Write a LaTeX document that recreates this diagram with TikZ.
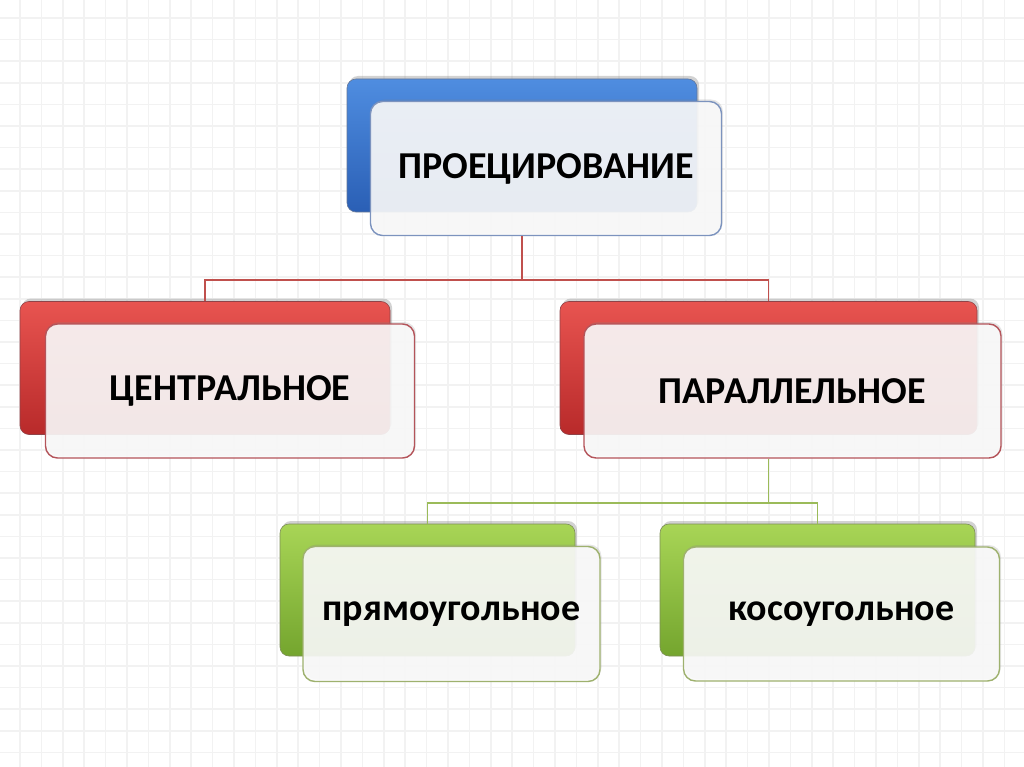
\documentclass[tikz,border=0pt]{standalone}
\usepackage{fontspec}
\setmainfont{Carlito}
\usetikzlibrary{shadows}
\definecolor{blueTop}{HTML}{4F8DE0}
\definecolor{blueBot}{HTML}{2A5FB5}
\definecolor{redTop}{HTML}{E85450}
\definecolor{redBot}{HTML}{B82A2A}
\definecolor{greenTop}{HTML}{A8D556}
\definecolor{greenBot}{HTML}{74A52E}
\definecolor{blueLine}{HTML}{7C93BE}
\definecolor{redLine}{HTML}{B4545A}
\definecolor{greenLine}{HTML}{9EB16E}
\definecolor{redLink}{HTML}{C0504D}
\definecolor{greenLink}{HTML}{9BBB59}
\tikzset{
  backbox/.style 2 args={draw=#2!80!black,line width=.6,rounded corners=9,top color=#1Top,bottom color=#1Bot,
    drop shadow={shadow xshift=2,shadow yshift=-3,opacity=.35}},
  frontbox/.style={draw=#1,line width=1.4,rounded corners=12,fill=black!2,fill opacity=.9,text opacity=1,
    drop shadow={shadow xshift=1.5,shadow yshift=-2,opacity=.2},
    font=\fontsize{38}{46}\selectfont\bfseries},
  link/.style={draw=#1,line width=1.6}
}
\begin{document}
\begin{tikzpicture}[x=1pt,y=-1pt]
  \useasboundingbox (0,0) rectangle (1024,767);
  \fill[white] (0,0) rectangle (1024,767);
  \def\StEp{21.4}%网格间距
  \foreach \x in {20,41.4,...,1024}
    \draw[black!5,line width=1.6] (\x,0)--(\x,767);
  \foreach \y in {18,39.6,...,767}
    \draw[black!5,line width=1.6] (0,\y)--(1024,\y);
  % 上层
  \node[backbox={blue}{blueLine},minimum width=350,minimum height=133] (projB) at (522,145.5) {};
  \node[frontbox=blueLine,minimum width=351,minimum height=134] (projF) at ([shift={(24,23)}]projB.center) {ПРОЕЦИРОВАНИЕ};
  % 中层
  \node[backbox={red}{redLine},minimum width=370,minimum height=133] (centB) at (205,368) {};
  \node[frontbox=redLine,minimum width=369,minimum height=134] (centF) at ([shift={(25,23)}]centB.center) {ЦЕНТРАЛЬНОЕ};
  \node[backbox={red}{redLine},minimum width=417,minimum height=133] (paraB) at (768.5,368) {};
  \node[frontbox=redLine,minimum width=417,minimum height=134] (paraF) at ([shift={(24,23)}]paraB.center) {ПАРАЛЛЕЛЬНОЕ};
  % 下层
  \node[backbox={green}{greenLine},minimum width=295,minimum height=132] (rectB) at (427.5,590) {};
  \node[frontbox=greenLine,minimum width=297,minimum height=135] (rectF) at ([shift={(24,24)}]rectB.center) {прямоугольное};
  \node[backbox={green}{greenLine},minimum width=315,minimum height=132] (obliB) at (817.5,590) {};
  \node[frontbox=greenLine,minimum width=316,minimum height=134] (obliF) at ([shift={(24,24)}]obliB.center) {косоугольное};
  % 连线
  \draw[link=redLink] (projF.south -| projB.south)--++(0,44)-|(centB.north);
  \draw[link=redLink] (projF.south -| projB.south)++(0,44)-|(paraB.north);
  \draw[link=greenLink] (paraF.south -| paraB.south)--++(0,44)-|(rectB.north);
  \draw[link=greenLink] (paraF.south -| paraB.south)++(0,44)-|(obliB.north);
\end{tikzpicture}
\end{document}
